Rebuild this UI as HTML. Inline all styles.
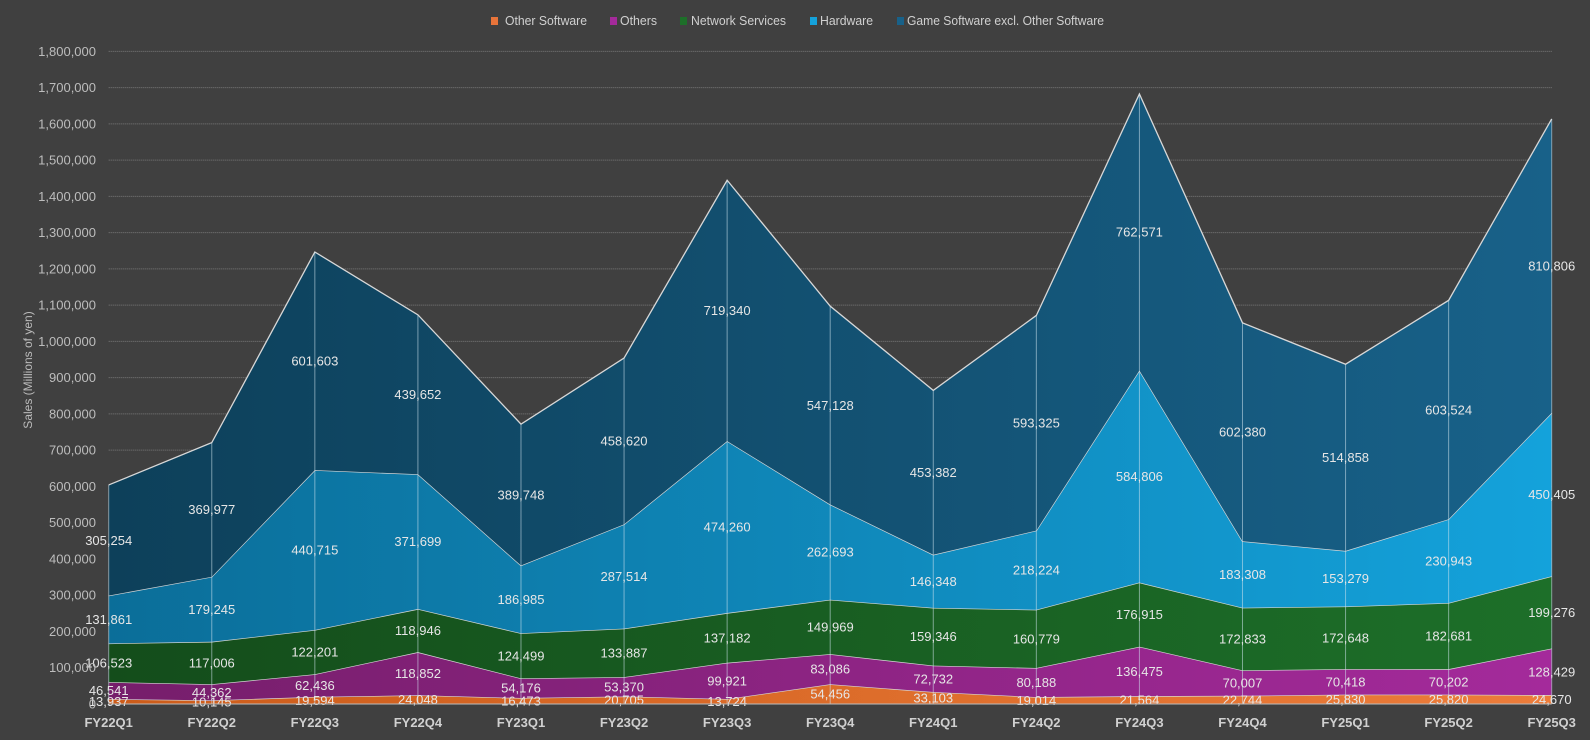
<!DOCTYPE html>
<html><head><meta charset="utf-8">
<style>
body{margin:0;background:#404040;}
svg{display:block;font-family:"Liberation Sans",sans-serif;}
</style></head>
<body>
<svg id="chart" width="1590" height="740" viewBox="0 0 1590 740" xmlns="http://www.w3.org/2000/svg">
<defs>
<linearGradient id="gGame" x1="0" x2="1"><stop offset="0" stop-color="#0d405a"/><stop offset="1" stop-color="#186189"/></linearGradient>
<linearGradient id="gHw" x1="0" x2="1"><stop offset="0" stop-color="#0b6e99"/><stop offset="1" stop-color="#14a2db"/></linearGradient>
<linearGradient id="gNet" x1="0" x2="1"><stop offset="0" stop-color="#144d1b"/><stop offset="1" stop-color="#1d6f29"/></linearGradient>
<linearGradient id="gOth" x1="0" x2="1"><stop offset="0" stop-color="#761e6b"/><stop offset="1" stop-color="#a42a9b"/></linearGradient>
<linearGradient id="gOS" x1="0" x2="1"><stop offset="0" stop-color="#cc5c1a"/><stop offset="1" stop-color="#ec7c3a"/></linearGradient>
</defs>
<g id="grid"></g>
<g id="areas"></g>
<g id="vlines"></g>
<g id="labels"></g>
<g id="axes"></g>
<text transform="translate(32,370) rotate(-90)" text-anchor="middle" fill="#bbb" font-size="12">Sales (Millions of yen)</text>
<g id="legend"></g>
</svg>
<script>
const categories=["FY22Q1","FY22Q2","FY22Q3","FY22Q4","FY23Q1","FY23Q2","FY23Q3","FY23Q4","FY24Q1","FY24Q2","FY24Q3","FY24Q4","FY25Q1","FY25Q2","FY25Q3"];
const otherSoftware=[13937,10145,19594,24048,16473,20705,13724,54456,33103,19014,21564,22744,25830,25820,24670];
const others=[46541,44362,62436,118852,54176,53370,99921,83086,72732,80188,136475,70007,70418,70202,128429];
const networkServices=[106523,117006,122201,118946,124499,133887,137182,149969,159346,160779,176915,172833,172648,182681,199276];
const hardware=[131861,179245,440715,371699,186985,287514,474260,262693,146348,218224,584806,183308,153279,230943,450405];
const gameSoftware=[305254,369977,601603,439652,389748,458620,719340,547128,453382,593325,762571,602380,514858,603524,810806];
const yTicks=[0,100000,200000,300000,400000,500000,600000,700000,800000,900000,1000000,1100000,1200000,1300000,1400000,1500000,1600000,1700000,1800000];
const seriesNames=["Other Software","Others","Network Services","Hardware","Game Software excl. Other Software"];

const NS="http://www.w3.org/2000/svg";
const X0=108.7,X1=1551.7,Y0=704,YPER=36.26/100000;
const xs=i=>X0+i*(X1-X0)/(categories.length-1);
const ys=v=>Y0-v*YPER;
function mk(tag,attrs,parent){const e=document.createElementNS(NS,tag);for(const k in attrs)e.setAttribute(k,attrs[k]);parent.appendChild(e);return e;}
const fmt=v=>v.toLocaleString("en-US");
const series=[otherSoftware,others,networkServices,hardware,gameSoftware];
const fills=["url(#gOS)","url(#gOth)","url(#gNet)","url(#gHw)","url(#gGame)"];
const keys=["other-software","others","network-services","hardware","game-software"];
const sw=["#e8743a","#a42a9b","#1d6f29","#14a2db","#186189"];
const grid=document.getElementById("grid"),axes=document.getElementById("axes");
yTicks.forEach(t=>{
  if(t>0){const l=mk("line",{x1:X0,x2:X1,y1:ys(t),y2:ys(t),stroke:"#7a7a7a","stroke-width":1,"stroke-dasharray":"1,1"},grid);
  
  }
  const tx=mk("text",{x:96,y:ys(t)+4.5,"text-anchor":"end",fill:"#bdbdbd","font-size":13},axes);
  tx.textContent=fmt(t);
  
  
});
const areas=document.getElementById("areas"),labels=document.getElementById("labels");
let base=categories.map(()=>0);
series.forEach((s,k)=>{
  const top=s.map((v,i)=>base[i]+v);
  let d="M"+top.map((v,i)=>xs(i)+","+ys(v)).join(" L");
  for(let i=categories.length-1;i>=0;i--)d+=" L"+xs(i)+","+ys(base[i]);
  d+="Z";
  const p=mk("path",{d:d,fill:fills[k]},areas);
  
  
  const ln=mk("polyline",{points:top.map((v,i)=>xs(i)+","+ys(v)).join(" "),fill:"none",stroke:"#d8d8d8","stroke-width":1.3},areas);
  
  
  s.forEach((v,i)=>{
    const t=mk("text",{x:xs(i),y:ys(base[i]+v/2)+4.5,"text-anchor":"middle",fill:"#e6e6e6","font-size":13},labels);
    t.textContent=fmt(v);
    
    
  });
  base=top;
});
const vl=document.getElementById("vlines");
categories.forEach((c,i)=>{
  const l=mk("line",{x1:xs(i),x2:xs(i),y1:ys(base[i]),y2:Y0,stroke:"#cfe3ee","stroke-opacity":0.55,"stroke-width":1},vl);
  
  
  const t=mk("text",{x:xs(i),y:727,"text-anchor":"middle",fill:"#d0d0d0","font-size":13,"font-weight":"bold"},axes);
  t.textContent=c;
  
  
});
const ax=mk("line",{x1:X0,x2:X1,y1:Y0,y2:Y0,stroke:"#bbb","stroke-width":1},axes);


const lg=document.getElementById("legend");
const lx=[491,610,680,810,897];
const tox=[14,10,11,10,10];
const tw=[82,37,95,53,197];
seriesNames.forEach((n,k)=>{
  const g=mk("g",{},lg);
  
  
  mk("rect",{x:lx[k],y:17,width:7,height:8,fill:sw[k]},g);
  const t=mk("text",{x:lx[k]+tox[k],y:25,fill:"#d0d0d0","font-size":13,textLength:tw[k],lengthAdjust:"spacingAndGlyphs"},g);
  t.textContent=n;
});
</script>
</body></html>
